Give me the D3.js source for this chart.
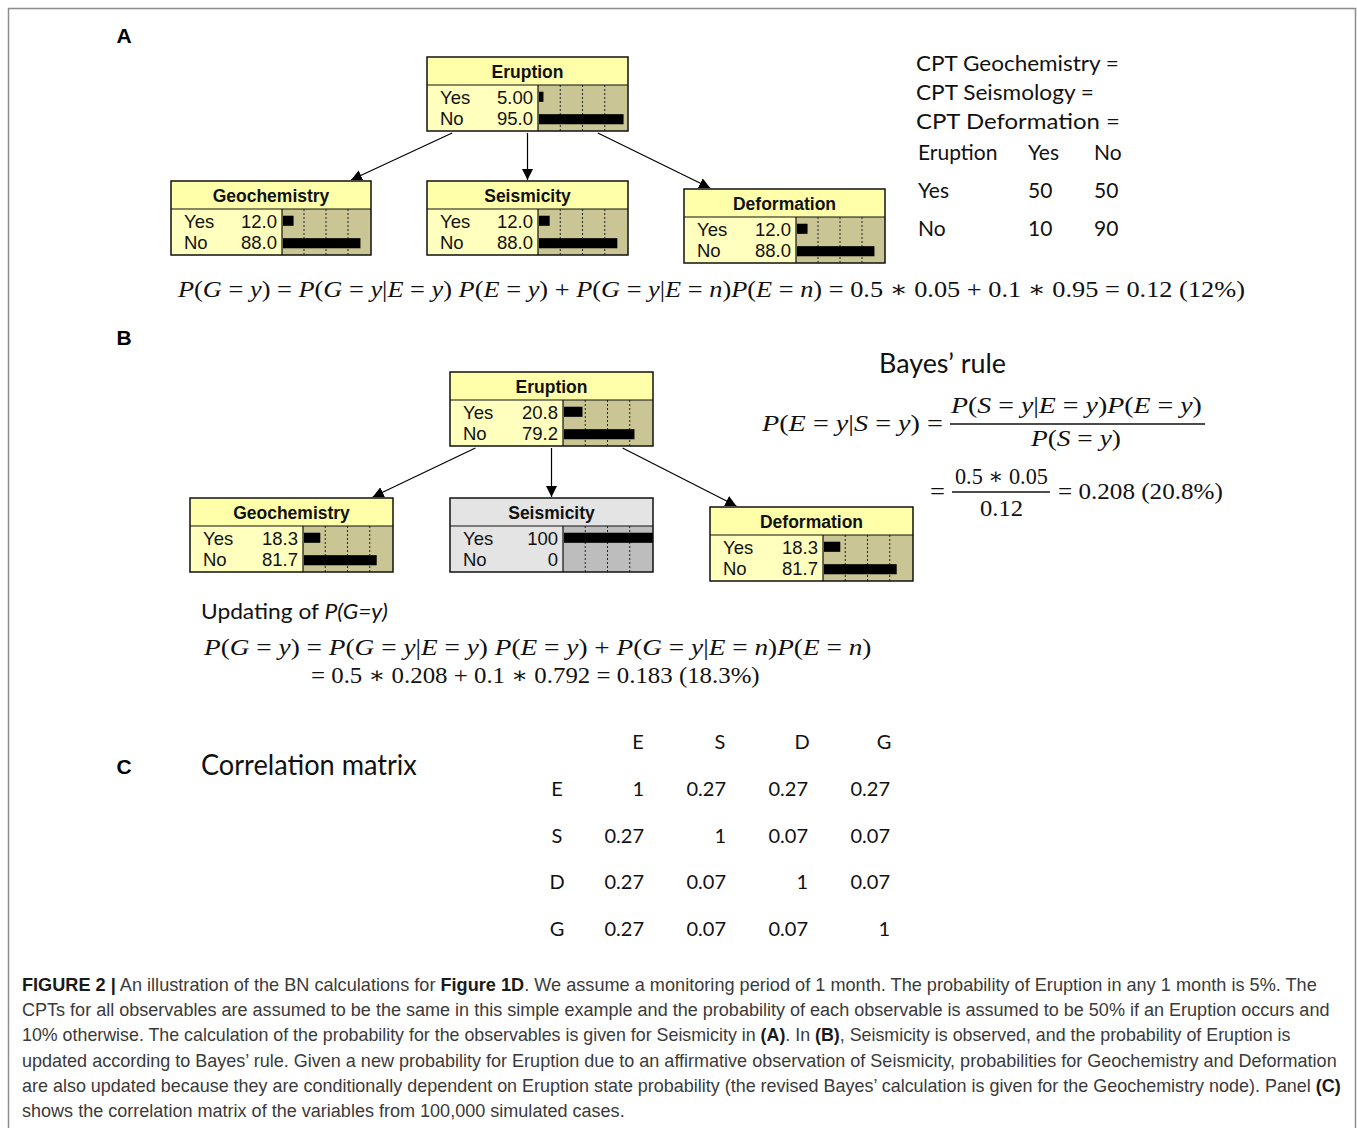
<!DOCTYPE html>
<html>
<head>
<meta charset="utf-8">
<script src="https://cdn.jsdelivr.net/npm/d3@7"></script>
<style>
  body { margin: 0; background: #fff; }
  svg { display: block; }
</style>
</head>
<body>
<svg id="fig" width="1357" height="1128"></svg>
<script>
// ---- data ----
const nodeNames = ["Eruption", "Geochemistry", "Seismicity", "Deformation"];
const stateNames = ["Yes", "No"];
const beliefsA = [[5.00, 95.0], [12.0, 88.0], [12.0, 88.0], [12.0, 88.0]];
const beliefsB = [[20.8, 79.2], [18.3, 81.7], [100, 0], [18.3, 81.7]];
const observedB = [false, false, true, false];
const barTicks = [25, 50, 75];

const cptTitles = ["CPT Geochemistry  =", "CPT Seismology  =", "CPT Deformation  ="];
const cptHeader = ["Eruption", "Yes", "No"];
const cptRows = ["Yes", "No"];
const cptValues = [[50, 50], [10, 90]];

const corrVars = ["E", "S", "D", "G"];
const corrValues = [
  [1, 0.27, 0.27, 0.27],
  [0.27, 1, 0.07, 0.07],
  [0.27, 0.07, 1, 0.07],
  [0.27, 0.07, 0.07, 1]
];

const formulaA = "P(G = y) = P(G = y|E = y) P(E = y) + P(G = y|E = n)P(E = n) = 0.5 ∗ 0.05 + 0.1 ∗ 0.95 = 0.12 (12%)";
const formulaB1 = "P(G = y) = P(G = y|E = y) P(E = y) + P(G = y|E = n)P(E = n)";
const formulaB2 = "= 0.5 ∗ 0.208 + 0.1 ∗ 0.792 = 0.183 (18.3%)";

const captionLines = [
  "**FIGURE 2 |** An illustration of the BN calculations for **Figure 1D**. We assume a monitoring period of 1 month. The probability of Eruption in any 1 month is 5%. The",
  "CPTs for all observables are assumed to be the same in this simple example and the probability of each observable is assumed to be 50% if an Eruption occurs and",
  "10% otherwise. The calculation of the probability for the observables is given for Seismicity in **(A)**. In **(B)**, Seismicity is observed, and the probability of Eruption is",
  "updated according to Bayes’ rule. Given a new probability for Eruption due to an affirmative observation of Seismicity, probabilities for Geochemistry and Deformation",
  "are also updated because they are conditionally dependent on Eruption state probability (the revised Bayes’ calculation is given for the Geochemistry node). Panel **(C)**",
  "shows the correlation matrix of the variables from 100,000 simulated cases."
];
const captionEnds = [1318, 1330, 1291, 1338, 1342, 625];

// ---- layout ----
const layoutA = [
  { x: 427, y: 57, w: 201, lw: 111 },
  { x: 171, y: 181, w: 200, lw: 111 },
  { x: 427, y: 181, w: 201, lw: 111 },
  { x: 684, y: 189, w: 201, lw: 112 }
];
const layoutB = [
  { x: 450, y: 372, w: 203, lw: 113 },
  { x: 190, y: 498, w: 203, lw: 113 },
  { x: 450, y: 498, w: 203, lw: 113 },
  { x: 710, y: 507, w: 203, lw: 113 }
];

const svg = d3.select("#fig");
const SANS = "'Liberation Sans', Arial, sans-serif";
const CAL = "Lato, 'Open Sans', sans-serif";
const SERIF = "'Liberation Serif', 'DejaVu Serif', serif";

// frame
svg.append("path")
  .attr("d", "M8.5,1128 V8.5 H1355.5 V1128")
  .attr("fill", "none").attr("stroke", "#8c8c8c").attr("stroke-width", 1.5);

svg.append("defs").append("marker")
  .attr("id", "arr").attr("viewBox", "0 0 10 10")
  .attr("refX", 10).attr("refY", 5)
  .attr("markerWidth", 11).attr("markerHeight", 11)
  .attr("markerUnits", "userSpaceOnUse")
  .attr("orient", "auto")
  .append("path").attr("d", "M0,0 L10,5 L0,10 z").attr("fill", "#000");

// panel letters
[["A", 43], ["B", 345], ["C", 774]].forEach(([t, y]) => {
  svg.append("text").attr("x", 124).attr("y", y).attr("text-anchor", "middle")
    .attr("font-family", SANS).attr("font-weight", "bold").attr("font-size", 21).text(t);
});

const fmt = v => (v === 0 || v === 100) ? String(v) : (v < 10 ? v.toFixed(2) : v.toFixed(1));

// stretch/squeeze a left-anchored text horizontally so it spans w pixels
function fit(t, w) {
  const x0 = +t.attr("x");
  const nat = t.node().getComputedTextLength();
  const sx = w / nat;
  t.attr("transform", `translate(${x0},0) scale(${sx},1) translate(${-x0},0)`);
  return t;
}

function drawNode(box, name, vals, observed) {
  const g = svg.append("g");
  const hdrH = 28, bodyH = 46;
  const bw = box.w - box.lw;
  const hdrFill = observed ? "#e4e4e4" : "#ffffaa";
  const lblFill = observed ? "#e4e4e4" : "#ffffbe";
  const barFill = observed ? "#bdbdbd" : "#c9c594";
  const bx = d3.scaleLinear().domain([0, 100]).range([0, bw - 1]);
  const by = d3.scaleBand().domain(stateNames).range([0, bodyH]).paddingInner(0.55).paddingOuter(0.3);
  const top = box.y + hdrH;

  g.append("rect").attr("x", box.x).attr("y", box.y).attr("width", box.w).attr("height", hdrH).attr("fill", hdrFill);
  g.append("rect").attr("x", box.x).attr("y", top).attr("width", box.lw).attr("height", bodyH).attr("fill", lblFill);
  g.append("rect").attr("x", box.x + box.lw).attr("y", top).attr("width", bw).attr("height", bodyH).attr("fill", barFill);

  barTicks.forEach(t => {
    g.append("line")
      .attr("x1", box.x + box.lw + bx(t)).attr("x2", box.x + box.lw + bx(t))
      .attr("y1", top).attr("y2", top + bodyH)
      .attr("stroke", "#222").attr("stroke-width", 1).attr("stroke-dasharray", "2,2");
  });

  g.selectAll(".bar").data(vals).enter().append("rect")
    .attr("x", box.x + box.lw + 1)
    .attr("y", (d, i) => top + by(stateNames[i]))
    .attr("width", d => bx(d))
    .attr("height", by.bandwidth())
    .attr("fill", "#000");

  g.append("text").attr("x", box.x + box.w / 2).attr("y", box.y + 21)
    .attr("text-anchor", "middle").attr("font-family", SANS).attr("font-weight", "bold")
    .attr("font-size", 17.5).attr("fill", "#111").text(name);

  stateNames.forEach((s, i) => {
    const yb = top + 19 + i * 21;
    g.append("text").attr("x", box.x + 13).attr("y", yb)
      .attr("font-family", SANS).attr("font-size", 18.5).attr("fill", "#111").text(s);
    g.append("text").attr("x", box.x + box.lw - 5).attr("y", yb).attr("text-anchor", "end")
      .attr("font-family", SANS).attr("font-size", 18.5).attr("fill", "#111").text(fmt(vals[i]));
  });

  // outlines
  g.append("rect").attr("x", box.x).attr("y", box.y).attr("width", box.w).attr("height", hdrH + bodyH)
    .attr("fill", "none").attr("stroke", "#111").attr("stroke-width", 1.5);
  g.append("line").attr("x1", box.x).attr("x2", box.x + box.w).attr("y1", top).attr("y2", top)
    .attr("stroke", "#111").attr("stroke-width", 1.2);
  g.append("line").attr("x1", box.x + box.lw).attr("x2", box.x + box.lw).attr("y1", top).attr("y2", top + bodyH)
    .attr("stroke", "#111").attr("stroke-width", 1.2);
}

function drawArrows(layout) {
  const p = layout[0];
  const bottom = p.y + 28 + 46 + 2;
  const starts = [0.125, 0.5, 0.85].map(f => p.x + p.w * f);
  const ends = [
    [layout[1].x + layout[1].w * 0.9, layout[1].y - 1],
    [layout[2].x + layout[2].w * 0.5, layout[2].y - 1],
    [layout[3].x + layout[3].w * 0.13, layout[3].y - 1]
  ];
  ends.forEach((e, i) => {
    svg.append("line").attr("x1", starts[i]).attr("y1", bottom).attr("x2", e[0]).attr("y2", e[1])
      .attr("stroke", "#000").attr("stroke-width", 1.2).attr("marker-end", "url(#arr)");
  });
}

drawArrows(layoutA);
drawArrows(layoutB);
nodeNames.forEach((n, i) => drawNode(layoutA[i], n, beliefsA[i], false));
nodeNames.forEach((n, i) => drawNode(layoutB[i], n, beliefsB[i], observedB[i]));

// ---- math text ----
function mathText(str, x0, x1, y, size) {
  const t = svg.append("text").attr("x", x0).attr("y", y)
    .attr("font-family", SERIF).attr("font-size", size).attr("fill", "#111");
  str.split(/([A-Za-z]+)/).filter(s => s.length).forEach(s => {
    t.append("tspan").attr("font-style", /[A-Za-z]/.test(s) ? "italic" : "normal").text(s);
  });
  return fit(t, x1 - x0);
}

mathText(formulaA, 178, 1246, 297, 23);

// CPT block
cptTitles.forEach((s, i) => {
  fit(svg.append("text").attr("x", 916).attr("y", 71 + i * 29)
    .attr("font-family", CAL).attr("font-size", 21).attr("fill", "#111").text(s),
    [203, 178, 204][i]);
});
const cptX = d3.scaleOrdinal().domain([0, 1, 2]).range([918, 1028, 1094]);
const cptY = d3.scaleLinear().domain([0, 2]).range([160, 236]);
cptHeader.forEach((h, j) => {
  svg.append("text").attr("x", cptX(j)).attr("y", cptY(0))
    .attr("font-family", CAL).attr("font-size", 21).attr("fill", "#111").text(h);
});
cptRows.forEach((r, i) => {
  svg.append("text").attr("x", cptX(0)).attr("y", cptY(i + 1))
    .attr("font-family", CAL).attr("font-size", 21).attr("fill", "#111").text(r);
  cptValues[i].forEach((v, j) => {
    svg.append("text").attr("x", cptX(j + 1)).attr("y", cptY(i + 1))
      .attr("font-family", CAL).attr("font-size", 21).attr("fill", "#111").text(v);
  });
});

// Bayes rule
fit(svg.append("text").attr("x", 879).attr("y", 373)
  .attr("font-family", CAL).attr("font-size", 27).attr("fill", "#111").text("Bayes’ rule"), 127);
mathText("P(E = y|S = y) =", 762, 943, 431, 23);
mathText("P(S = y|E = y)P(E = y)", 951, 1202, 413, 23);
svg.append("line").attr("x1", 950).attr("x2", 1205).attr("y1", 424).attr("y2", 424)
  .attr("stroke", "#111").attr("stroke-width", 1.6);
mathText("P(S = y)", 1031, 1121, 446, 23);
mathText("=", 930, 945, 499, 23);
mathText("0.5 ∗ 0.05", 955, 1048, 484, 23);
svg.append("line").attr("x1", 952).attr("x2", 1050).attr("y1", 492).attr("y2", 492)
  .attr("stroke", "#111").attr("stroke-width", 1.6);
mathText("0.12", 980, 1023, 516, 23);
mathText("= 0.208 (20.8%)", 1058, 1223, 499, 23);

// Updating of P(G=y)
const up = svg.append("text").attr("x", 201).attr("y", 619)
  .attr("font-family", CAL).attr("font-size", 22).attr("fill", "#111");
up.append("tspan").text("Updating of ");
up.append("tspan").attr("font-style", "italic").text("P(G=y)");
fit(up, 187);
mathText(formulaB1, 204, 872, 655, 23);
mathText(formulaB2, 311, 760, 683, 23);

// ---- correlation matrix ----
fit(svg.append("text").attr("x", 201).attr("y", 775)
  .attr("font-family", CAL).attr("font-size", 28).attr("fill", "#111").text("Correlation matrix"), 216);

const cx = d3.scalePoint().domain(corrVars).range([644, 890]);
const cy = d3.scalePoint().domain(corrVars).range([796, 936]);
corrVars.forEach(v => {
  svg.append("text").attr("x", cx(v) - 6).attr("y", 749).attr("text-anchor", "middle")
    .attr("font-family", CAL).attr("font-size", 20).attr("fill", "#111").text(v);
  svg.append("text").attr("x", 557).attr("y", cy(v)).attr("text-anchor", "middle")
    .attr("font-family", CAL).attr("font-size", 20).attr("fill", "#111").text(v);
});
corrValues.forEach((row, i) => {
  row.forEach((v, j) => {
    svg.append("text").attr("x", cx(corrVars[j])).attr("y", cy(corrVars[i])).attr("text-anchor", "end")
      .attr("font-family", CAL).attr("font-size", 20).attr("fill", "#111")
      .text(v === 1 ? "1" : v.toFixed(2));
  });
});

// ---- caption ----
captionLines.forEach((line, i) => {
  const t = svg.append("text").attr("x", 22).attr("y", 991 + i * 25.2)
    .attr("font-family", SANS).attr("font-size", 18).attr("fill", "#3a3a3a");
  line.split(/(\*\*[^*]+\*\*)/).filter(s => s.length).forEach(s => {
    const b = s.startsWith("**");
    t.append("tspan").attr("font-weight", b ? "bold" : "normal").attr("fill", b ? "#1a1a1a" : "#3a3a3a")
      .text(b ? s.slice(2, -2) : s);
  });
  fit(t, captionEnds[i] - 22);
});
</script>
</body>
</html>
